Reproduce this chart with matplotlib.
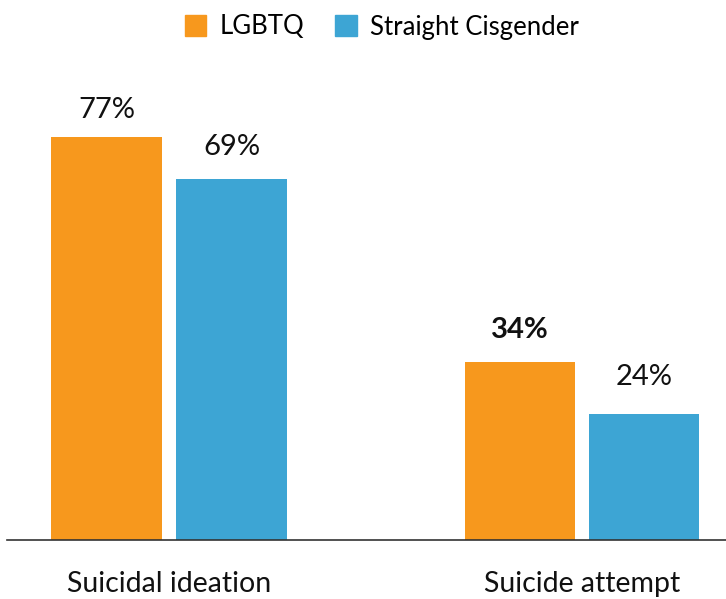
import matplotlib
matplotlib.use('Agg')
import matplotlib.pyplot as plt
from matplotlib.patches import Patch
import numpy as np

categories = ["Suicidal ideation", "Suicide attempt"]
series_names = ["LGBTQ", "Straight Cisgender"]
lgbtq = [77, 34]
straight = [69, 24]
bold_labels = [False, True]  # LGBTQ attempt label is bold in the original

colors = ["#F7981D", "#3DA5D4"]

plt.rcParams['font.family'] = ['Lato', 'DejaVu Sans']

fig = plt.figure(figsize=(7.26, 5.99), dpi=100)
W, H = 726, 599
ax_left, ax_right = 7, 726
ax_bottom, ax_top = 540, 60
ax = fig.add_axes([ax_left / W, 1 - ax_bottom / H,
                   (ax_right - ax_left) / W, (ax_bottom - ax_top) / H])

px_per_unit = 413
bar_w = 110 / px_per_unit
off = 62.5 / px_per_unit
x = np.arange(len(categories))

b1 = ax.bar(x - off, lgbtq, width=bar_w, color=colors[0])
b2 = ax.bar(x + off, straight, width=bar_w, color=colors[1])


def label_gap(v, base):
    # gap (points) between bar top and label baseline, shrinks a bit for tall bars
    return (base - 0.12 * v) * 0.72


for rect, v, bold in zip(b1, lgbtq, bold_labels):
    ax.annotate(f"{v}%", (rect.get_x() + rect.get_width() / 2, v),
                xytext=(0, label_gap(v, 28.5)), textcoords='offset points',
                ha='center', va='baseline', fontsize=21,
                fontweight='bold' if bold else 'normal', color='#111111')
for rect, v in zip(b2, straight):
    ax.annotate(f"{v}%", (rect.get_x() + rect.get_width() / 2, v),
                xytext=(0, label_gap(v, 32.5)), textcoords='offset points',
                ha='center', va='baseline', fontsize=21, color='#111111')

ax.set_xlim(-(169 - ax_left) / px_per_unit, 1 + (ax_right - 582) / px_per_unit)
ax.set_ylim(0, (ax_bottom - ax_top) / 5.234)

ax.set_xticks(x)
ax.set_xticklabels(categories, fontsize=20.5, color='#111111')
ax.tick_params(axis='x', length=0, pad=22)
ax.set_yticks([])
for s in ['top', 'right', 'left']:
    ax.spines[s].set_visible(False)
ax.spines['bottom'].set_color('#333333')
ax.spines['bottom'].set_linewidth(1.2)

handles = [Patch(color=c, label=n) for c, n in zip(colors, series_names)]
fig.legend(handles=handles, loc='center', bbox_to_anchor=(0.5255, 1 - 27 / H),
           ncol=2, frameon=False, fontsize=18.5, handlelength=0.85, handleheight=0.85,
           handletextpad=0.5, columnspacing=1.2)

fig.savefig("out.png", dpi=100)
plt.close(fig)
